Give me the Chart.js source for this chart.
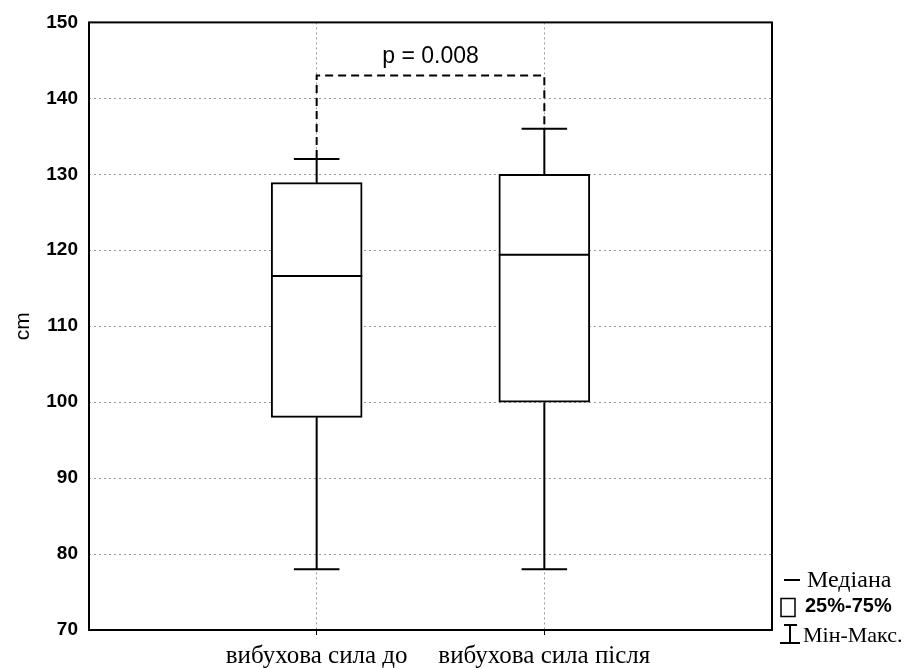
<!DOCTYPE html>
<html>
<head>
<meta charset="utf-8">
<script src="https://cdn.jsdelivr.net/npm/chart.js@4"></script>
<style>
  html, body { margin: 0; padding: 0; background: #fff; overflow: hidden; }
  canvas { display: block; }
</style>
</head>
<body>
<canvas id="boxChart" width="910" height="668"></canvas>
<script>
// box-plot values
const categories = ['вибухова сила до', 'вибухова сила після'];
const mins = [78, 78];
const q1s = [98, 100];
const medians = [116.6, 119.4];
const q3s = [128.9, 130];
const maxs = [132, 136];
const yTicks = [70, 80, 90, 100, 110, 120, 130, 140, 150];
const pLabel = 'p = 0.008';
const bracketLevel = 143;
const legendItems = ['Медіана', '25%-75%', 'Мін-Макс.'];

const positions = categories.map((c, i) => i + 1);
const serif = '"Times New Roman", "Liberation Serif", serif';
const sans = 'Arial, "Liberation Sans", sans-serif';

// whiskers, median, p bracket, frame, legend
const boxExtras = {
  id: 'boxExtras',
  afterDatasetsDraw(chart) {
    const { ctx, scales: { x, y } } = chart;
    ctx.save();
    ctx.strokeStyle = '#000';
    ctx.lineWidth = 2;
    positions.forEach((p, i) => {
      const cx = x.getPixelForValue(p);
      const halfBox = (x.getPixelForValue(p + 0.2) - cx);
      const halfCap = (x.getPixelForValue(p + 0.1) - cx);
      ctx.beginPath();
      // upper whisker
      ctx.moveTo(cx, y.getPixelForValue(q3s[i]));
      ctx.lineTo(cx, y.getPixelForValue(maxs[i]));
      ctx.moveTo(cx - halfCap, y.getPixelForValue(maxs[i]));
      ctx.lineTo(cx + halfCap, y.getPixelForValue(maxs[i]));
      // lower whisker
      ctx.moveTo(cx, y.getPixelForValue(q1s[i]));
      ctx.lineTo(cx, y.getPixelForValue(mins[i]));
      ctx.moveTo(cx - halfCap, y.getPixelForValue(mins[i]));
      ctx.lineTo(cx + halfCap, y.getPixelForValue(mins[i]));
      // median
      ctx.moveTo(cx - halfBox, y.getPixelForValue(medians[i]));
      ctx.lineTo(cx + halfBox, y.getPixelForValue(medians[i]));
      ctx.stroke();
    });

    // significance bracket
    const x1 = x.getPixelForValue(positions[0]);
    const x2 = x.getPixelForValue(positions[1]);
    const yb = y.getPixelForValue(bracketLevel);
    ctx.setLineDash([8, 5]);
    ctx.beginPath();
    ctx.moveTo(x1, y.getPixelForValue(maxs[0]) - 1);
    ctx.lineTo(x1, yb);
    ctx.lineTo(x2, yb);
    ctx.lineTo(x2, y.getPixelForValue(maxs[1]) - 1);
    ctx.stroke();
    ctx.setLineDash([]);
    ctx.fillStyle = '#000';
    ctx.font = '23px ' + sans;
    ctx.textAlign = 'center';
    ctx.textBaseline = 'alphabetic';
    ctx.fillText(pLabel, (x1 + x2) / 2, yb - 13);
    ctx.restore();
  },
  afterDraw(chart) {
    const { ctx, chartArea: a } = chart;
    ctx.save();
    ctx.strokeStyle = '#000';
    ctx.lineWidth = 2;
    ctx.strokeRect(a.left, a.top, a.right - a.left, a.bottom - a.top);

    // legend in the lower right corner
    const lx = a.right;
    const b = a.bottom;
    ctx.lineWidth = 2;
    ctx.fillStyle = '#000';
    ctx.textAlign = 'left';
    ctx.textBaseline = 'alphabetic';
    // median mark
    ctx.beginPath();
    ctx.moveTo(lx + 12, b - 50);
    ctx.lineTo(lx + 28, b - 50);
    ctx.stroke();
    ctx.font = '24px ' + serif;
    ctx.fillText(legendItems[0], lx + 35, b - 43);
    // box mark
    ctx.lineWidth = 1.5;
    ctx.strokeRect(lx + 9, b - 31.5, 14, 18);
    ctx.font = 'bold 20px ' + sans;
    ctx.fillText(legendItems[1], lx + 33, b - 18);
    // min-max mark
    ctx.lineWidth = 2;
    ctx.beginPath();
    ctx.moveTo(lx + 12, b - 5);
    ctx.lineTo(lx + 25, b - 5);
    ctx.moveTo(lx + 18, b - 5);
    ctx.lineTo(lx + 18, b + 13);
    ctx.moveTo(lx + 8, b + 13);
    ctx.lineTo(lx + 28, b + 13);
    ctx.stroke();
    ctx.font = '22px ' + serif;
    ctx.fillText(legendItems[2], lx + 31, b + 12);
    ctx.restore();
  }
};

const ctx = document.getElementById('boxChart').getContext('2d');
new Chart(ctx, {
  type: 'bar',
  data: {
    datasets: [{
      label: '25%-75%',
      data: positions.map((p, i) => ({ x: p, y: [q1s[i], q3s[i]] })),
      backgroundColor: '#fff',
      borderColor: '#000',
      borderWidth: 2,
      borderSkipped: false,
      barThickness: 91
    }]
  },
  plugins: [boxExtras],
  options: {
    responsive: false,
    animation: false,
    layout: { padding: { left: 0, top: 22, right: 138, bottom: 0 } },
    plugins: { legend: { display: false }, tooltip: { enabled: false } },
    scales: {
      x: {
        type: 'linear',
        min: 0,
        max: 3,
        offset: false,
        afterBuildTicks: s => { s.ticks = positions.map(v => ({ value: v })); },
        afterFit: s => { s.height = 38; },
        ticks: {
          callback: v => categories[v - 1],
          color: '#000',
          padding: 6,
          maxRotation: 0,
          autoSkip: false,
          font: { family: serif, size: 25 }
        },
        grid: { offset: false, color: '#999', drawTicks: true, tickLength: 5, tickColor: '#000' },
        border: { display: false, dash: [2, 3] }
      },
      y: {
        min: 70,
        max: 150,
        afterBuildTicks: s => { s.ticks = yTicks.map(v => ({ value: v })); },
        afterFit: s => { s.width = 89; },
        title: {
          display: true,
          text: 'cm',
          color: '#000',
          padding: { top: 11, bottom: 0 },
          font: { family: sans, size: 21 }
        },
        ticks: {
          color: '#000',
          padding: 11,
          font: { family: sans, size: 19, weight: 'bold' }
        },
        grid: { color: '#999', drawTicks: false },
        border: { display: false, dash: [2, 3] }
      }
    }
  }
});
</script>
</body>
</html>
